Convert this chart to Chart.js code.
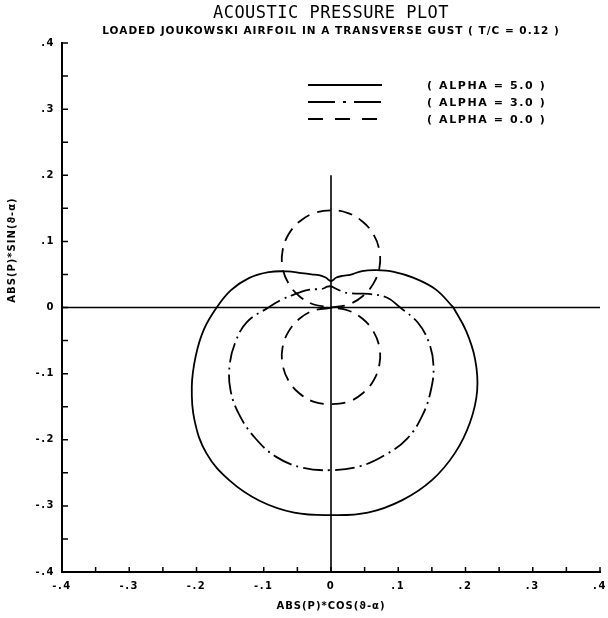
<!DOCTYPE html>
<html>
<head>
<meta charset="utf-8">
<script src="https://cdn.jsdelivr.net/npm/chart.js@4.4.0/dist/chart.umd.min.js"></script>
<style>
  html, body { margin: 0; padding: 0; background: #fff; }
  canvas { display: block; }
</style>
</head>
<body>
<canvas id="pressurePlot" width="608" height="618"></canvas>
<script>
// directivity angle (deg) and |P| read at each angle, one array per alpha
const angles = [0, 10, 20, 30, 40, 50, 60, 70, 80, 90, 100, 110, 120, 130, 140, 150, 160, 170,
                180, 190, 200, 210, 220, 230, 240, 250, 260, 270, 280, 290, 300, 310, 320, 330, 340, 350];

const absP_alpha5 = [0.182, 0.158, 0.131, 0.108, 0.088, 0.072, 0.057, 0.051, 0.046, 0.040, 0.046, 0.052,
                     0.058, 0.068, 0.085, 0.107, 0.130, 0.151, 0.170, 0.192, 0.214, 0.239, 0.265, 0.288,
                     0.302, 0.311, 0.315, 0.314, 0.315, 0.310, 0.301, 0.287, 0.270, 0.251, 0.228, 0.204];

const absP_alpha3 = [0.103, 0.085, 0.060, 0.042, 0.034, 0.030, 0.029, 0.029, 0.030, 0.032, 0.032, 0.031,
                     0.032, 0.036, 0.042, 0.049, 0.058, 0.073, 0.093, 0.127, 0.151, 0.174, 0.195, 0.212,
                     0.227, 0.240, 0.246, 0.246, 0.244, 0.237, 0.228, 0.212, 0.194, 0.176, 0.155, 0.131];

const absP_alpha0 = [0.000, 0.026, 0.050, 0.073, 0.094, 0.112, 0.127, 0.138, 0.145, 0.147, 0.145, 0.138,
                     0.127, 0.112, 0.094, 0.073, 0.050, 0.026, 0.000, 0.026, 0.050, 0.073, 0.094, 0.112,
                     0.127, 0.138, 0.145, 0.146, 0.145, 0.138, 0.127, 0.112, 0.094, 0.073, 0.050, 0.026];

const seriesNames = ['( ALPHA = 5.0 )', '( ALPHA = 3.0 )', '( ALPHA = 0.0 )'];

// reference lines through the origin
const horizAxisX = [-0.4, 0.4];
const vertAxisY = [0.2, -0.4];

const axisValues = [-0.4, -0.3, -0.2, -0.1, 0, 0.1, 0.2, 0.3, 0.4];
const xLabels = ['-.4', '-.3', '-.2', '-.1', '0', '.1', '.2', '.3', '.4'];
const yLabels = ['-.4', '-.3', '-.2', '-.1', '0', '.1', '.2', '.3', '.4'];
const tickMarks = [-0.4, -0.35, -0.3, -0.25, -0.2, -0.15, -0.1, -0.05, 0,
                   0.05, 0.1, 0.15, 0.2, 0.25, 0.3, 0.35, 0.4];

const TITLE = 'ACOUSTIC PRESSURE PLOT';
const SUBTITLE = 'LOADED JOUKOWSKI AIRFOIL IN A TRANSVERSE GUST ( T/C = 0.12 )';
const X_TITLE = 'ABS(P)*COS(\u03D1-\u03B1)';
const Y_TITLE = 'ABS(P)*SIN(\u03D1-\u03B1)';

const boldFont = '"DejaVu Sans", sans-serif';

function polarLoop(r) {
  const pts = angles.map((a, i) => {
    const t = a * Math.PI / 180;
    return { x: r[i] * Math.cos(t), y: r[i] * Math.sin(t) };
  });
  pts.push(pts[0]);
  return pts;
}

function curve(label, r, dash) {
  return {
    label: label,
    data: polarLoop(r),
    showLine: true,
    borderColor: '#000',
    borderWidth: 1.8,
    borderDash: dash,
    pointRadius: 0,
    tension: 0.4,
    fill: false
  };
}

function refLine(pts) {
  return {
    label: '',
    data: pts,
    showLine: true,
    borderColor: '#000',
    borderWidth: 1.6,
    pointRadius: 0,
    tension: 0
  };
}

const legendDash = [[], [27, 8, 3, 8], [15, 12]];

// plotter-style wide lettering for the tick labels
const wideText = {
  id: 'wideText',
  beforeDraw(chart) { chart.ctx.letterSpacing = '1.5px'; },
  afterDatasetsDraw(chart) { chart.ctx.letterSpacing = '0px'; }
};

// title block, legend, axis titles and inward tick marks
const plotDecor = {
  id: 'plotDecor',
  afterDraw(chart) {
    const ctx = chart.ctx;
    const area = chart.chartArea;
    const xs = chart.scales.x, ys = chart.scales.y;
    const cx = xs.getPixelForValue(0);
    ctx.save();
    ctx.fillStyle = '#000';
    ctx.strokeStyle = '#000';

    ctx.textAlign = 'center';
    ctx.textBaseline = 'middle';
    ctx.letterSpacing = '0.5px';
    ctx.font = '17px "DejaVu Sans Mono", monospace';
    ctx.fillText(TITLE, cx, 14);
    ctx.letterSpacing = '1px';
    ctx.font = 'bold 10.5px ' + boldFont;
    ctx.fillText(SUBTITLE, cx, 31);

    ctx.font = 'bold 10px ' + boldFont;
    ctx.fillText(X_TITLE, cx, 606);
    ctx.save();
    ctx.translate(12, 250);
    ctx.rotate(-Math.PI / 2);
    ctx.fillText(Y_TITLE, 0, 0);
    ctx.restore();

    // inward ticks
    ctx.lineWidth = 1.5;
    ctx.beginPath();
    tickMarks.forEach(v => {
      const py = ys.getPixelForValue(v);
      ctx.moveTo(area.left, py);
      ctx.lineTo(area.left + 6, py);
      const px = xs.getPixelForValue(v);
      ctx.moveTo(px, area.bottom);
      ctx.lineTo(px, area.bottom - 5);
    });
    ctx.stroke();

    // legend
    const ds = chart.data.datasets.filter(d => d.label);
    ctx.textAlign = 'left';
    ctx.letterSpacing = '1.6px';
    ctx.font = 'bold 11px ' + boldFont;
    ds.forEach((d, i) => {
      const y = 85 + i * 17;
      ctx.setLineDash(legendDash[i]);
      ctx.lineWidth = 1.8;
      ctx.beginPath();
      ctx.moveTo(308, y);
      ctx.lineTo(382, y);
      ctx.stroke();
      ctx.setLineDash([]);
      ctx.fillText(d.label, 427, y + 1);
    });
    ctx.restore();
  }
};

new Chart(document.getElementById('pressurePlot'), {
  type: 'scatter',
  data: {
    datasets: [
      refLine([{ x: horizAxisX[0], y: 0 }, { x: horizAxisX[1], y: 0 }]),
      refLine([{ x: 0, y: vertAxisY[0] }, { x: 0, y: vertAxisY[1] }]),
      curve(seriesNames[0], absP_alpha5, []),
      curve(seriesNames[1], absP_alpha3, [20, 5, 2, 5]),
      curve(seriesNames[2], absP_alpha0, [14, 8])
    ]
  },
  options: {
    responsive: false,
    animation: false,
    devicePixelRatio: 1,
    layout: { padding: { top: 43, right: 8, left: 0, bottom: 0 } },
    plugins: {
      legend: { display: false },
      tooltip: { enabled: false },
      title: { display: false }
    },
    scales: {
      x: {
        type: 'linear',
        min: -0.4,
        max: 0.4,
        afterBuildTicks: s => { s.ticks = axisValues.map(v => ({ value: v })); },
        afterFit: s => { s.height = 46; s.paddingLeft = 0; s.paddingRight = 0; },
        grid: { display: false, drawTicks: false },
        border: { display: true, color: '#000', width: 2 },
        ticks: {
          padding: 8,
          color: '#000',
          font: { family: boldFont, size: 10, weight: 'bold' },
          maxRotation: 0,
          callback: (v, i) => xLabels[i]
        }
      },
      y: {
        type: 'linear',
        min: -0.4,
        max: 0.4,
        afterBuildTicks: s => { s.ticks = axisValues.map(v => ({ value: v })); },
        afterFit: s => { s.width = 62; },
        grid: { display: false, drawTicks: false },
        border: { display: true, color: '#000', width: 2 },
        ticks: {
          padding: 7,
          color: '#000',
          font: { family: boldFont, size: 10, weight: 'bold' },
          callback: (v, i) => yLabels[i]
        }
      }
    }
  },
  plugins: [wideText, plotDecor]
});
</script>
</body>
</html>
